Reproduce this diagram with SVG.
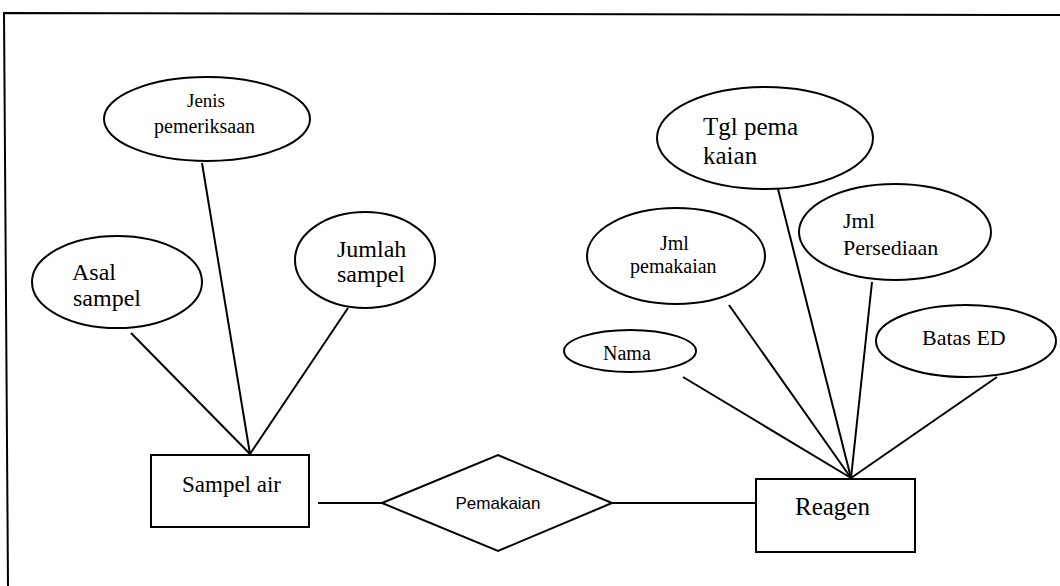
<svg xmlns="http://www.w3.org/2000/svg" width="1060" height="586" viewBox="0 0 1060 586">
<style>
  .shape { fill: #fff; stroke: #000; stroke-width: 2; }
  .line { stroke: #000; stroke-width: 2; fill: none; }
  .t { font-family: "Liberation Serif", "Times New Roman", serif; fill: #000; }
  .s { font-family: "Liberation Sans", Arial, sans-serif; fill: #000; }
</style>
<rect width="1060" height="586" fill="#fff"/>
<path class="line" d="M1060,15 L4,13 L8,586"/>
<g id="connectors">
  <line class="line" x1="202" y1="163" x2="250" y2="454"/>
  <line class="line" x1="131" y1="333" x2="250" y2="454"/>
  <line class="line" x1="348" y1="308" x2="250" y2="454"/>
  <line class="line" x1="777" y1="185" x2="851" y2="478"/>
  <line class="line" x1="729" y1="305" x2="851" y2="478"/>
  <line class="line" x1="872" y1="282" x2="851" y2="478"/>
  <line class="line" x1="997" y1="377" x2="851" y2="478"/>
  <line class="line" x1="683" y1="377" x2="851" y2="478"/>
  <line class="line" x1="318" y1="503" x2="382" y2="503"/>
  <line class="line" x1="612" y1="503" x2="756" y2="503"/>
</g>
<g id="jenis">
  <ellipse class="shape" cx="207" cy="119" rx="103" ry="42"/>
  <text class="t" x="187" y="107" font-size="19">Jenis</text>
  <text class="t" x="154" y="133" font-size="20">pemeriksaan</text>
</g>
<g id="asal">
  <ellipse class="shape" cx="117" cy="282" rx="85" ry="46"/>
  <text class="t" x="72" y="280" font-size="24">Asal</text>
  <text class="t" x="73" y="306" font-size="24">sampel</text>
</g>
<g id="jumlah">
  <ellipse class="shape" cx="365" cy="260" rx="70" ry="48"/>
  <text class="t" x="337" y="257" font-size="24">Jumlah</text>
  <text class="t" x="337" y="282" font-size="24">sampel</text>
</g>
<g id="sampel-air">
  <rect class="shape" x="151" y="455" width="158" height="72"/>
  <text class="t" x="182" y="492" font-size="23">Sampel air</text>
</g>
<g id="pemakaian">
  <polygon class="shape" points="382,503 498,455 612,503 498,551"/>
  <text class="s" x="498" y="509" font-size="17" text-anchor="middle">Pemakaian</text>
</g>
<g id="reagen">
  <rect class="shape" x="756" y="479" width="159" height="73"/>
  <text class="t" x="795" y="515" font-size="25">Reagen</text>
</g>
<g id="tgl">
  <ellipse class="shape" cx="765" cy="138" rx="108" ry="51"/>
  <text class="t" x="703" y="135" font-size="25">Tgl pema</text>
  <text class="t" x="703" y="164" font-size="25">kaian</text>
</g>
<g id="jml-pemakaian">
  <ellipse class="shape" cx="676" cy="256" rx="89" ry="48"/>
  <text class="t" x="660" y="250" font-size="20">Jml</text>
  <text class="t" x="630" y="273" font-size="20">pemakaian</text>
</g>
<g id="jml-persediaan">
  <ellipse class="shape" cx="895" cy="232" rx="96" ry="48"/>
  <text class="t" x="843" y="228" font-size="22">Jml</text>
  <text class="t" x="843" y="255" font-size="22">Persediaan</text>
</g>
<g id="batas-ed">
  <ellipse class="shape" cx="966" cy="341" rx="90" ry="36"/>
  <text class="t" x="922" y="345" font-size="22">Batas ED</text>
</g>
<g id="nama">
  <ellipse class="shape" cx="630" cy="351" rx="66" ry="21"/>
  <text class="t" x="603" y="360" font-size="20">Nama</text>
</g>
</svg>
